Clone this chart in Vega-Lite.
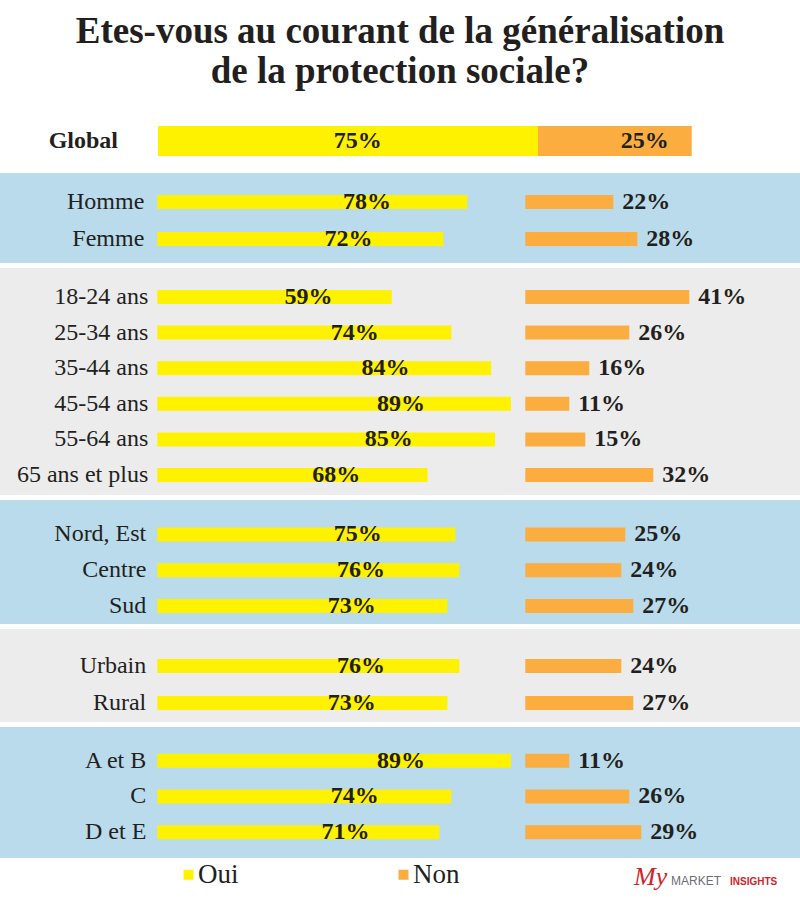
{
  "$schema": "https://vega.github.io/schema/vega-lite/v6.json",
  "background": "white",
  "padding": {"top": 13, "left": 0, "right": 0, "bottom": 0},
  "config": {"view": {"stroke": null}, "concat": {"spacing": 5}},
  "title": {"text": ["Etes-vous au courant de la généralisation", "de la protection sociale?"], "font": "Liberation Serif", "fontSize": 37, "fontWeight": "bold", "lineHeight": 40, "anchor": "middle", "frame": "group", "color": "#231f20", "offset": 20},
  "datasets": {
    "rows": [
      {"groupe": "Global", "categorie": "Global", "oui": 0.75, "non": 0.25},
      {"groupe": "Sexe", "categorie": "Homme", "oui": 0.78, "non": 0.22},
      {"groupe": "Sexe", "categorie": "Femme", "oui": 0.72, "non": 0.28},
      {"groupe": "Age", "categorie": "18-24 ans", "oui": 0.59, "non": 0.41},
      {"groupe": "Age", "categorie": "25-34 ans", "oui": 0.74, "non": 0.26},
      {"groupe": "Age", "categorie": "35-44 ans", "oui": 0.84, "non": 0.16},
      {"groupe": "Age", "categorie": "45-54 ans", "oui": 0.89, "non": 0.11},
      {"groupe": "Age", "categorie": "55-64 ans", "oui": 0.85, "non": 0.15},
      {"groupe": "Age", "categorie": "65 ans et plus", "oui": 0.68, "non": 0.32},
      {"groupe": "Region", "categorie": "Nord, Est", "oui": 0.75, "non": 0.25},
      {"groupe": "Region", "categorie": "Centre", "oui": 0.76, "non": 0.24},
      {"groupe": "Region", "categorie": "Sud", "oui": 0.73, "non": 0.27},
      {"groupe": "Milieu", "categorie": "Urbain", "oui": 0.76, "non": 0.24},
      {"groupe": "Milieu", "categorie": "Rural", "oui": 0.73, "non": 0.27},
      {"groupe": "CSP", "categorie": "A et B", "oui": 0.89, "non": 0.11},
      {"groupe": "CSP", "categorie": "C", "oui": 0.74, "non": 0.26},
      {"groupe": "CSP", "categorie": "D et E", "oui": 0.71, "non": 0.29}
    ]
  },
  "vconcat": [
    {
      "width": 800, "height": 57,
      "data": {"name": "rows"},
      "transform": [{"filter": "datum.groupe === 'Global'"}],
      "encoding": {"y": {"field": "categorie", "type": "nominal", "sort": null, "axis": null, "scale": {"paddingInner": 0, "paddingOuter": 0.45, "align": 0.5556}}},
      "layer": [
        {"mark": {"type": "bar", "color": "#fff200"}, "encoding": {"x": {"field": "oui", "type": "quantitative", "axis": null, "scale": {"domain": [0, 1], "range": [158, 664.7]}}}},
        {"mark": {"type": "bar", "color": "#fbad40"}, "encoding": {"x": {"field": "oui", "type": "quantitative", "axis": null, "scale": {"domain": [0, 1], "range": [76.8, 691.7]}}, "x2": {"datum": 1}}},
        {"mark": {"type": "text", "font": "Liberation Serif", "fontWeight": "bold", "fontSize": 24, "color": "#231f20", "align": "center", "baseline": "middle"}, "encoding": {"x": {"field": "oui", "type": "quantitative", "axis": null, "scale": {"domain": [0, 1], "range": [126.6, 434.9]}}, "text": {"field": "oui", "type": "quantitative", "format": ".0%"}}},
        {"mark": {"type": "text", "font": "Liberation Serif", "fontWeight": "bold", "fontSize": 24, "color": "#231f20", "align": "right", "baseline": "middle", "dx": -23}, "encoding": {"x": {"datum": 1, "type": "quantitative", "axis": null, "scale": {"domain": [0, 1], "range": [76.8, 691.7]}}, "text": {"field": "non", "type": "quantitative", "format": ".0%"}}},
        {"mark": {"type": "text", "font": "Liberation Serif", "fontWeight": "bold", "fontSize": 24, "color": "#231f20", "align": "right", "baseline": "middle", "dx": -40}, "encoding": {"x": {"datum": 0, "type": "quantitative", "axis": null, "scale": {"domain": [0, 1], "range": [158, 664.7]}}, "text": {"field": "categorie"}}}
      ],
      "resolve": {"scale": {"x": "independent"}}
    },
    {
      "width": 800, "height": 90,
      "view": {"fill": "#badbeb", "stroke": null},
      "data": {"name": "rows"},
      "transform": [{"filter": "datum.groupe === 'Sexe'"}],
      "encoding": {"y": {"field": "categorie", "type": "nominal", "sort": null, "axis": null, "scale": {"paddingInner": 0, "paddingOuter": 0.2162, "align": 0.656}}},
      "layer": [
        {"mark": {"type": "bar", "size": 14, "color": "#fff200"}, "encoding": {"x": {"field": "oui", "type": "quantitative", "axis": null, "scale": {"domain": [0, 1], "range": [157.3, 554.7]}}}},
        {"mark": {"type": "text", "font": "Liberation Serif", "fontWeight": "bold", "fontSize": 24, "color": "#231f20", "align": "center", "baseline": "middle"}, "encoding": {"x": {"field": "oui", "type": "quantitative", "axis": null, "scale": {"domain": [0, 1], "range": [126.6, 434.9]}}, "text": {"field": "oui", "type": "quantitative", "format": ".0%"}}},
        {"mark": {"type": "bar", "size": 14, "color": "#fbad40"}, "encoding": {"x": {"field": "non", "type": "quantitative", "axis": null, "scale": {"domain": [0, 1], "range": [525.3, 925.3]}}}},
        {"mark": {"type": "text", "font": "Liberation Serif", "fontWeight": "bold", "fontSize": 24, "color": "#231f20", "align": "left", "baseline": "middle", "dx": 9}, "encoding": {"x": {"field": "non", "type": "quantitative", "axis": null, "scale": {"domain": [0, 1], "range": [525.3, 925.3]}}, "text": {"field": "non", "type": "quantitative", "format": ".0%"}}},
        {"mark": {"type": "text", "font": "Liberation Serif", "fontSize": 24, "color": "#231f20", "align": "right", "baseline": "middle", "dx": -13}, "encoding": {"x": {"datum": 0, "type": "quantitative", "axis": null, "scale": {"domain": [0, 1], "range": [157.3, 554.7]}}, "text": {"field": "categorie"}}}
      ],
      "resolve": {"scale": {"x": "independent"}}
    },
    {
      "width": 800, "height": 227,
      "view": {"fill": "#ececec", "stroke": null},
      "data": {"name": "rows"},
      "transform": [{"filter": "datum.groupe === 'Age'"}],
      "encoding": {"y": {"field": "categorie", "type": "nominal", "sort": null, "axis": null, "scale": {"paddingInner": 0, "paddingOuter": 0.1882, "align": 0.836}}},
      "layer": [
        {"mark": {"type": "bar", "size": 14, "color": "#fff200"}, "encoding": {"x": {"field": "oui", "type": "quantitative", "axis": null, "scale": {"domain": [0, 1], "range": [157.3, 554.7]}}}},
        {"mark": {"type": "text", "font": "Liberation Serif", "fontWeight": "bold", "fontSize": 24, "color": "#231f20", "align": "center", "baseline": "middle"}, "encoding": {"x": {"field": "oui", "type": "quantitative", "axis": null, "scale": {"domain": [0, 1], "range": [126.6, 434.9]}}, "text": {"field": "oui", "type": "quantitative", "format": ".0%"}}},
        {"mark": {"type": "bar", "size": 14, "color": "#fbad40"}, "encoding": {"x": {"field": "non", "type": "quantitative", "axis": null, "scale": {"domain": [0, 1], "range": [525.3, 925.3]}}}},
        {"mark": {"type": "text", "font": "Liberation Serif", "fontWeight": "bold", "fontSize": 24, "color": "#231f20", "align": "left", "baseline": "middle", "dx": 9}, "encoding": {"x": {"field": "non", "type": "quantitative", "axis": null, "scale": {"domain": [0, 1], "range": [525.3, 925.3]}}, "text": {"field": "non", "type": "quantitative", "format": ".0%"}}},
        {"mark": {"type": "text", "font": "Liberation Serif", "fontSize": 24, "color": "#231f20", "align": "right", "baseline": "middle", "dx": -9}, "encoding": {"x": {"datum": 0, "type": "quantitative", "axis": null, "scale": {"domain": [0, 1], "range": [157.3, 554.7]}}, "text": {"field": "categorie"}}}
      ],
      "resolve": {"scale": {"x": "independent"}}
    },
    {
      "width": 800, "height": 124,
      "view": {"fill": "#badbeb", "stroke": null},
      "data": {"name": "rows"},
      "transform": [{"filter": "datum.groupe === 'Region'"}],
      "encoding": {"y": {"field": "categorie", "type": "nominal", "sort": null, "axis": null, "scale": {"paddingInner": 0, "paddingOuter": 0.2318, "align": 1}}},
      "layer": [
        {"mark": {"type": "bar", "size": 14, "color": "#fff200"}, "encoding": {"x": {"field": "oui", "type": "quantitative", "axis": null, "scale": {"domain": [0, 1], "range": [157.3, 554.7]}}}},
        {"mark": {"type": "text", "font": "Liberation Serif", "fontWeight": "bold", "fontSize": 24, "color": "#231f20", "align": "center", "baseline": "middle"}, "encoding": {"x": {"field": "oui", "type": "quantitative", "axis": null, "scale": {"domain": [0, 1], "range": [126.6, 434.9]}}, "text": {"field": "oui", "type": "quantitative", "format": ".0%"}}},
        {"mark": {"type": "bar", "size": 14, "color": "#fbad40"}, "encoding": {"x": {"field": "non", "type": "quantitative", "axis": null, "scale": {"domain": [0, 1], "range": [525.3, 925.3]}}}},
        {"mark": {"type": "text", "font": "Liberation Serif", "fontWeight": "bold", "fontSize": 24, "color": "#231f20", "align": "left", "baseline": "middle", "dx": 9}, "encoding": {"x": {"field": "non", "type": "quantitative", "axis": null, "scale": {"domain": [0, 1], "range": [525.3, 925.3]}}, "text": {"field": "non", "type": "quantitative", "format": ".0%"}}},
        {"mark": {"type": "text", "font": "Liberation Serif", "fontSize": 24, "color": "#231f20", "align": "right", "baseline": "middle", "dx": -11}, "encoding": {"x": {"datum": 0, "type": "quantitative", "axis": null, "scale": {"domain": [0, 1], "range": [157.3, 554.7]}}, "text": {"field": "categorie"}}}
      ],
      "resolve": {"scale": {"x": "independent"}}
    },
    {
      "width": 800, "height": 93,
      "view": {"fill": "#ececec", "stroke": null},
      "data": {"name": "rows"},
      "transform": [{"filter": "datum.groupe === 'Milieu'"}],
      "encoding": {"y": {"field": "categorie", "type": "nominal", "sort": null, "axis": null, "scale": {"paddingInner": 0, "paddingOuter": 0.2568, "align": 0.974}}},
      "layer": [
        {"mark": {"type": "bar", "size": 14, "color": "#fff200"}, "encoding": {"x": {"field": "oui", "type": "quantitative", "axis": null, "scale": {"domain": [0, 1], "range": [157.3, 554.7]}}}},
        {"mark": {"type": "text", "font": "Liberation Serif", "fontWeight": "bold", "fontSize": 24, "color": "#231f20", "align": "center", "baseline": "middle"}, "encoding": {"x": {"field": "oui", "type": "quantitative", "axis": null, "scale": {"domain": [0, 1], "range": [126.6, 434.9]}}, "text": {"field": "oui", "type": "quantitative", "format": ".0%"}}},
        {"mark": {"type": "bar", "size": 14, "color": "#fbad40"}, "encoding": {"x": {"field": "non", "type": "quantitative", "axis": null, "scale": {"domain": [0, 1], "range": [525.3, 925.3]}}}},
        {"mark": {"type": "text", "font": "Liberation Serif", "fontWeight": "bold", "fontSize": 24, "color": "#231f20", "align": "left", "baseline": "middle", "dx": 9}, "encoding": {"x": {"field": "non", "type": "quantitative", "axis": null, "scale": {"domain": [0, 1], "range": [525.3, 925.3]}}, "text": {"field": "non", "type": "quantitative", "format": ".0%"}}},
        {"mark": {"type": "text", "font": "Liberation Serif", "fontSize": 24, "color": "#231f20", "align": "right", "baseline": "middle", "dx": -11}, "encoding": {"x": {"datum": 0, "type": "quantitative", "axis": null, "scale": {"domain": [0, 1], "range": [157.3, 554.7]}}, "text": {"field": "categorie"}}}
      ],
      "resolve": {"scale": {"x": "independent"}}
    },
    {
      "width": 800, "height": 131,
      "view": {"fill": "#badbeb", "stroke": null},
      "data": {"name": "rows"},
      "transform": [{"filter": "datum.groupe === 'CSP'"}],
      "encoding": {"y": {"field": "categorie", "type": "nominal", "sort": null, "axis": null, "scale": {"paddingInner": 0, "paddingOuter": 0.3296, "align": 0.669}}},
      "layer": [
        {"mark": {"type": "bar", "size": 14, "color": "#fff200"}, "encoding": {"x": {"field": "oui", "type": "quantitative", "axis": null, "scale": {"domain": [0, 1], "range": [157.3, 554.7]}}}},
        {"mark": {"type": "text", "font": "Liberation Serif", "fontWeight": "bold", "fontSize": 24, "color": "#231f20", "align": "center", "baseline": "middle"}, "encoding": {"x": {"field": "oui", "type": "quantitative", "axis": null, "scale": {"domain": [0, 1], "range": [126.6, 434.9]}}, "text": {"field": "oui", "type": "quantitative", "format": ".0%"}}},
        {"mark": {"type": "bar", "size": 14, "color": "#fbad40"}, "encoding": {"x": {"field": "non", "type": "quantitative", "axis": null, "scale": {"domain": [0, 1], "range": [525.3, 925.3]}}}},
        {"mark": {"type": "text", "font": "Liberation Serif", "fontWeight": "bold", "fontSize": 24, "color": "#231f20", "align": "left", "baseline": "middle", "dx": 9}, "encoding": {"x": {"field": "non", "type": "quantitative", "axis": null, "scale": {"domain": [0, 1], "range": [525.3, 925.3]}}, "text": {"field": "non", "type": "quantitative", "format": ".0%"}}},
        {"mark": {"type": "text", "font": "Liberation Serif", "fontSize": 24, "color": "#231f20", "align": "right", "baseline": "middle", "dx": -11}, "encoding": {"x": {"datum": 0, "type": "quantitative", "axis": null, "scale": {"domain": [0, 1], "range": [157.3, 554.7]}}, "text": {"field": "categorie"}}}
      ],
      "resolve": {"scale": {"x": "independent"}}
    },
    {
      "width": 800, "height": 46,
      "layer": [
        {
          "data": {"values": [{"reponse": "Oui"}, {"reponse": "Non"}]},
          "mark": {"type": "square", "opacity": 0},
          "encoding": {
            "color": {"field": "reponse", "type": "nominal", "sort": null,
              "scale": {"domain": ["Oui", "Non"], "range": ["#fff200", "#fbad40"]},
              "legend": {"orient": "none", "legendX": 175, "legendY": 750, "padding": 0, "direction": "horizontal", "title": null, "symbolType": "square", "symbolSize": 100, "symbolOpacity": 1, "symbolStrokeWidth": 0, "labelFont": "Liberation Serif", "labelFontSize": 27, "labelColor": "#231f20", "columnPadding": 151, "labelOffset": -4}}
          }
        },
        {
          "data": {"values": [{"t": "My"}]},
          "mark": {"type": "text", "font": "Liberation Serif", "fontStyle": "italic", "fontSize": 26, "color": "#d2232a", "align": "left", "baseline": "alphabetic", "dy": -1},
          "encoding": {"x": {"datum": 634, "type": "quantitative", "axis": null, "scale": {"domain": [0, 800]}}, "text": {"field": "t"}}
        },
        {
          "data": {"values": [{"t": "MARKET"}]},
          "mark": {"type": "text", "font": "Liberation Sans", "fontSize": 12, "color": "#6d6e71", "align": "left", "baseline": "alphabetic", "dy": -1},
          "encoding": {"x": {"datum": 671, "type": "quantitative", "axis": null, "scale": {"domain": [0, 800]}}, "text": {"field": "t"}}
        },
        {
          "data": {"values": [{"t": "INSIGHTS"}]},
          "mark": {"type": "text", "font": "Liberation Sans", "fontWeight": "bold", "fontSize": 10, "color": "#d2232a", "align": "left", "baseline": "alphabetic", "dy": -1},
          "encoding": {"x": {"datum": 730, "type": "quantitative", "axis": null, "scale": {"domain": [0, 800]}}, "text": {"field": "t"}}
        }
      ]
    }
  ]
}
